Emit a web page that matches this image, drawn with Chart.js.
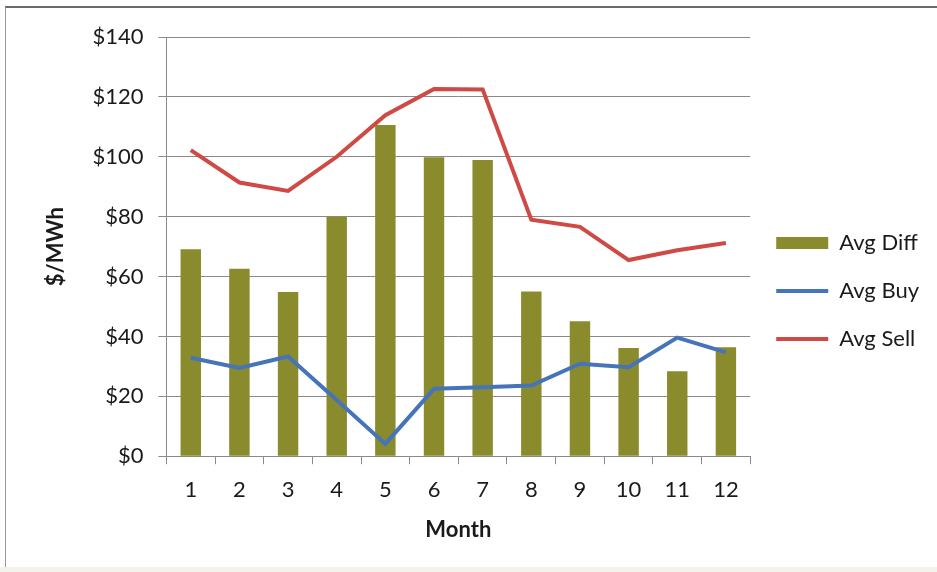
<!DOCTYPE html>
<html lang="en">
<head>
    <meta charset="UTF-8">
    <title>Avg Buy / Sell by Month</title>
    <script src="https://cdn.jsdelivr.net/npm/chart.js"></script>
    <style>
        body { margin: 0; background: #ffffff; }
        #wrap { position: relative; width: 937px; height: 572px; overflow: hidden; }
        #frame {
            position: absolute; left: 5px; top: 6px; width: 960px; height: 559px;
            border-top: 2px solid #6a6a6a; border-left: 1px solid #9a9a9a;
            border-bottom: 1px solid #d8d8d0;
        }
        #strip { position: absolute; left: 0; top: 567px; width: 937px; height: 5px; background: #f3f3ea; }
        canvas { position: absolute; left: 0; top: 0; }
    </style>
    <script>
        // monthly averages in $/MWh
        const months = ['1', '2', '3', '4', '5', '6', '7', '8', '9', '10', '11', '12'];
        const avgDiff = [69.1, 62.6, 54.8, 80.0, 110.6, 99.8, 98.9, 55.0, 45.1, 36.1, 28.4, 36.4];
        const avgBuy = [32.9, 29.5, 33.3, 18.8, 4.1, 22.5, 23.0, 23.6, 30.9, 29.7, 39.6, 34.7];
        const avgSell = [102.2, 91.4, 88.6, 100.0, 113.9, 122.6, 122.5, 79.0, 76.6, 65.5, 68.8, 71.2];
        const yTicks = [0, 20, 40, 60, 80, 100, 120, 140];

        const font = 'Lato';
        const olive = '#8a8b2d';
        const blue = '#4674b8';
        const red = '#cf4a45';

        window.onload = function() {
            const ctx = document.getElementById('Chart').getContext('2d');
            new Chart(ctx, {
                type: 'bar',
                data: {
                    labels: months,
                    datasets: [
                        {
                            label: 'Avg Diff',
                            data: avgDiff,
                            backgroundColor: olive,
                            barPercentage: 0.42,
                            categoryPercentage: 1,
                            order: 2
                        },
                        {
                            type: 'line',
                            label: 'Avg Buy',
                            data: avgBuy,
                            borderColor: blue,
                            borderWidth: 4,
                            pointRadius: 0,
                            tension: 0,
                            fill: false,
                            order: 1
                        },
                        {
                            type: 'line',
                            label: 'Avg Sell',
                            data: avgSell,
                            borderColor: red,
                            borderWidth: 4,
                            pointRadius: 0,
                            tension: 0,
                            fill: false,
                            order: 0
                        }
                    ]
                },
                options: {
                    responsive: false,
                    animation: false,
                    layout: { padding: { left: 36, top: 37, right: 8, bottom: 27 } },
                    plugins: {
                        tooltip: { enabled: false },
                        legend: {
                            position: 'right',
                            maxWidth: 187,
                            labels: {
                                font: { family: font, size: 22 },
                                color: '#1a1a1a',
                                usePointStyle: true,
                                pointStyleWidth: 52,
                                boxHeight: 12,
                                padding: 26,
                                generateLabels: function(chart) {
                                    return chart.data.datasets.map((ds, i) => ({
                                        text: ds.label,
                                        datasetIndex: i,
                                        fillStyle: ds.type === 'line' ? ds.borderColor : ds.backgroundColor,
                                        strokeStyle: ds.type === 'line' ? ds.borderColor : ds.backgroundColor,
                                        lineWidth: ds.type === 'line' ? 4 : 0,
                                        pointStyle: ds.type === 'line' ? 'line' : 'rect',
                                        fontColor: '#1a1a1a',
                                        hidden: false
                                    }));
                                }
                            }
                        }
                    },
                    scales: {
                        x: {
                            grid: {
                                display: true,
                                drawOnChartArea: false,
                                drawTicks: true,
                                tickLength: 8,
                                color: '#8a8a8a'
                            },
                            border: { color: '#8a8a8a', width: 1 },
                            ticks: {
                                font: { family: font, size: 22 },
                                color: '#1a1a1a',
                                padding: 13,
                                maxRotation: 0
                            },
                            title: {
                                display: true,
                                text: 'Month',
                                font: { family: font, size: 22, weight: 'bold' },
                                color: '#1a1a1a',
                                padding: { top: 0, bottom: 2 }
                            }
                        },
                        y: {
                            min: 0,
                            max: 140,
                            afterBuildTicks: axis => { axis.ticks = yTicks.map(v => ({ value: v })); },
                            grid: {
                                color: '#8a8a8a',
                                tickLength: 8,
                                drawTicks: true
                            },
                            border: { color: '#8a8a8a', width: 1 },
                            ticks: {
                                font: { family: font, size: 22 },
                                color: '#1a1a1a',
                                padding: 15,
                                callback: v => '$' + v
                            },
                            title: {
                                display: true,
                                text: '$/MWh',
                                font: { family: font, size: 22, weight: 'bold' },
                                color: '#1a1a1a',
                                padding: { top: 7, bottom: 8 }
                            }
                        }
                    }
                }
            });
        };
    </script>
</head>
<body>
    <div id="wrap">
        <canvas id="Chart" width="937" height="572"></canvas>
        <div id="frame"></div>
        <div id="strip"></div>
    </div>
</body>
</html>
